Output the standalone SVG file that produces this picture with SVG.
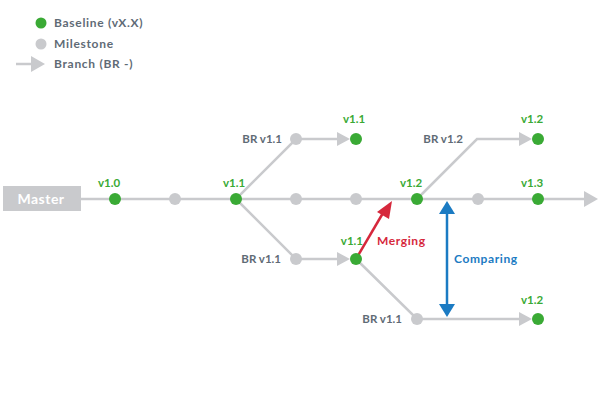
<svg xmlns="http://www.w3.org/2000/svg" width="600" height="400" viewBox="0 0 600 400">
<style>
.ln{stroke:#c9cacd;stroke-width:2.5;fill:none}
.g{fill:#3aaa35}
.m{fill:#c9cacd}
.ah{fill:#c9cacd}
.tg{font-family:Lato,"Open Sans",sans-serif;font-weight:bold;font-size:11.5px;fill:#3aaa35}
.tb{font-family:Lato,"Open Sans",sans-serif;font-weight:bold;font-size:11.5px;fill:#5f6b76}
.tl{font-family:Lato,"Open Sans",sans-serif;font-weight:bold;font-size:12px;letter-spacing:0.7px;fill:#5f6b76}
.ta{font-family:Lato,"Open Sans",sans-serif;font-weight:bold;font-size:12px;letter-spacing:0.6px}
</style>
<rect width="600" height="400" fill="#fff"/>
<g id="legend">
<circle cx="41" cy="23" r="5.5" class="g"/>
<text x="54" y="27" class="tl">Baseline (vX.X)</text>
<circle cx="41" cy="44" r="5.5" class="m"/>
<text x="54" y="48" class="tl">Milestone</text>
<line x1="16" y1="64" x2="32" y2="64" class="ln"/>
<polygon points="31,56 45,64 31,72" class="ah"/>
<text x="54" y="68" class="tl">Branch (BR -)</text>
</g>
<g id="connectors">
<line x1="81" y1="199" x2="586" y2="199" class="ln"/>
<polygon points="584,191 598,199 584,207" class="ah"/>
<polyline points="236,199 296,139 340,139" class="ln"/>
<polygon points="337,132 350,139 337,146" class="ah"/>
<polyline points="236,199 296,259 340,259" class="ln"/>
<polygon points="337,252 350,259 337,266" class="ah"/>
<polyline points="356,259 417,319 522,319" class="ln"/>
<polygon points="519,312 532,319 519,326" class="ah"/>
<polyline points="417,199 477,139 522,139" class="ln"/>
<polygon points="519,132 532,139 519,146" class="ah"/>
<line x1="356" y1="259" x2="383" y2="213" stroke="#d6283c" stroke-width="2.5"/>
<polygon points="392,201 389,219 377,212" fill="#d6283c"/>
<line x1="447" y1="212" x2="447" y2="306" stroke="#1b7bc3" stroke-width="2.5"/>
<polygon points="447,201 455,214 439,214" fill="#1b7bc3"/>
<polygon points="447,317 455,304 439,304" fill="#1b7bc3"/>
</g>
<g id="master">
<rect x="3" y="186" width="78" height="25" fill="#c9cacd"/>
<text x="41" y="204" text-anchor="middle" font-family="Lato,'Open Sans',sans-serif" font-weight="bold" font-size="14" letter-spacing="0.5" fill="#fff">Master</text>
</g>
<g id="n-v10"><circle cx="115" cy="199" r="6" class="g"/><text x="109" y="187" text-anchor="middle" class="tg">v1.0</text></g>
<g id="n-m1"><circle cx="175" cy="199" r="6" class="m"/></g>
<g id="n-v11"><circle cx="236" cy="199" r="6" class="g"/><text x="234" y="187" text-anchor="middle" class="tg">v1.1</text></g>
<g id="n-m2"><circle cx="296" cy="199" r="6" class="m"/></g>
<g id="n-m3"><circle cx="356" cy="199" r="6" class="m"/></g>
<g id="n-v12"><circle cx="417" cy="199" r="6" class="g"/><text x="411" y="187" text-anchor="middle" class="tg">v1.2</text></g>
<g id="n-m4"><circle cx="478" cy="199" r="6" class="m"/></g>
<g id="n-v13"><circle cx="538" cy="199" r="6" class="g"/><text x="532" y="187" text-anchor="middle" class="tg">v1.3</text></g>
<g id="n-br11a"><circle cx="296" cy="139" r="6" class="m"/><text x="282" y="143" text-anchor="end" class="tb">BR v1.1</text></g>
<g id="n-v11a"><circle cx="356" cy="139" r="6" class="g"/><text x="354" y="123" text-anchor="middle" class="tg">v1.1</text></g>
<g id="n-br11b"><circle cx="296" cy="259" r="6" class="m"/><text x="281" y="263" text-anchor="end" class="tb">BR v1.1</text></g>
<g id="n-v11b"><circle cx="356" cy="259" r="6" class="g"/><text x="363" y="245" text-anchor="end" class="tg">v1.1</text></g>
<g id="n-br11c"><circle cx="417" cy="319" r="6" class="m"/><text x="402" y="323" text-anchor="end" class="tb">BR v1.1</text></g>
<g id="n-v12c"><circle cx="538" cy="319" r="6" class="g"/><text x="532" y="304" text-anchor="middle" class="tg">v1.2</text></g>
<g id="n-br12"><text x="463" y="143" text-anchor="end" class="tb">BR v1.2</text></g>
<g id="n-v12a"><circle cx="538" cy="139" r="6" class="g"/><text x="532" y="123" text-anchor="middle" class="tg">v1.2</text></g>
<text x="377" y="245" class="ta" fill="#d6283c">Merging</text>
<text x="454" y="263" class="ta" fill="#1b7bc3">Comparing</text>
</svg>
